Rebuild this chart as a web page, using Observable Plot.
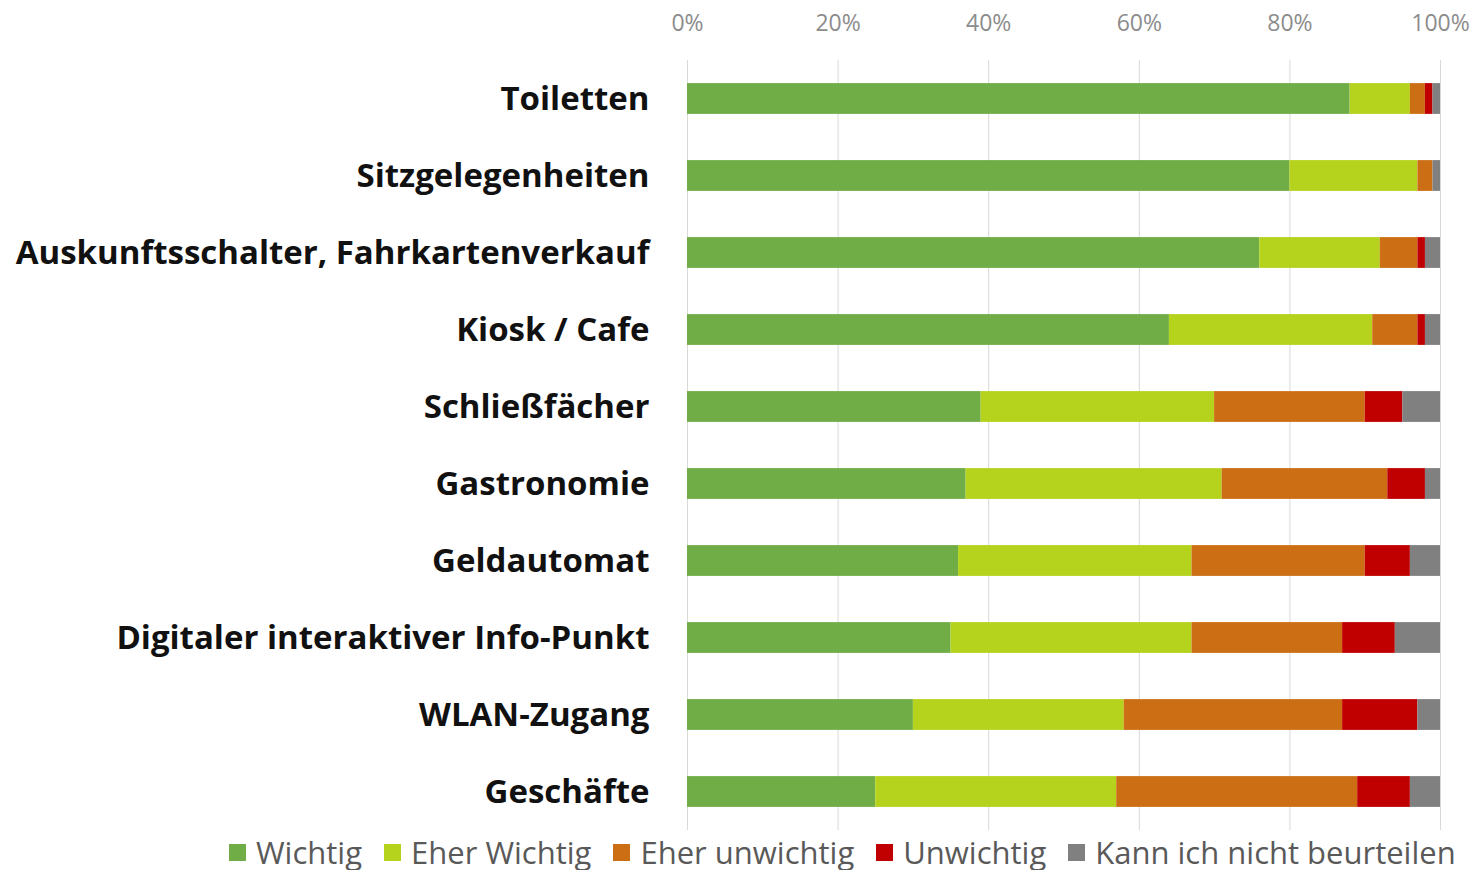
<!DOCTYPE html>
<html>
<head>
<meta charset="utf-8">
<script src="https://cdn.jsdelivr.net/npm/d3@7"></script>
<script src="https://cdn.jsdelivr.net/npm/@observablehq/plot@0.6"></script>
<style>
  html, body { margin: 0; padding: 0; background: #fff; }
  #chart { width: 1476px; }
  .legend { display: flex; align-items: center; margin-left: 229px; margin-top: -2px; line-height: 36px;
            font-family: "Open Sans", Lato, sans-serif; font-size: 31px; color: #595959; white-space: nowrap; }
  .legend .item { display: flex; align-items: center; margin-right: 22px; }
  .legend .sw { width: 17px; height: 17px; margin-right: 10px; display: inline-block; }
</style>
</head>
<body>
<div id="chart"></div>
<script>
const categories = ["Toiletten", "Sitzgelegenheiten", "Auskunftsschalter, Fahrkartenverkauf", "Kiosk / Cafe", "Schließfächer", "Gastronomie", "Geldautomat", "Digitaler interaktiver Info-Punkt", "WLAN-Zugang", "Geschäfte"];
const seriesNames = ["Wichtig", "Eher Wichtig", "Eher unwichtig", "Unwichtig", "Kann ich nicht beurteilen"];
const seriesColors = ["#70ad47", "#b5d31c", "#cc6f14", "#c00000", "#808080"];
const wichtig       = [88, 80, 76, 64, 39, 37, 36, 35, 30, 25];
const eherWichtig   = [8, 17, 16, 27, 31, 34, 31, 32, 28, 32];
const eherUnwichtig = [2, 2, 5, 6, 20, 22, 23, 20, 29, 32];
const unwichtig     = [1, 0, 1, 1, 5, 5, 6, 7, 10, 7];
const kannNicht     = [1, 1, 2, 2, 5, 2, 4, 6, 3, 4];
const xTicks = [0, 20, 40, 60, 80, 100];

const seriesValues = [wichtig, eherWichtig, eherUnwichtig, unwichtig, kannNicht];
const data = [];
categories.forEach((c, i) => {
  seriesNames.forEach((s, j) => data.push({category: c, series: s, value: seriesValues[j][i]}));
});

const plot = Plot.plot({
  width: 1476,
  height: 836,
  marginLeft: 687,
  marginRight: 36,
  marginTop: 60,
  marginBottom: 6,
  style: {fontFamily: "'Open Sans', Lato, sans-serif", background: "#fff"},
  x: {domain: [0, 100], ticks: xTicks, label: null},
  y: {domain: categories, paddingInner: 0.6, paddingOuter: 0.3, round: false, label: null},
  color: {domain: seriesNames, range: seriesColors},
  marks: [
    Plot.ruleX(xTicks, {stroke: "#d9d9d9", strokeWidth: 1}),
    Plot.barX(data, {x: "value", y: "category", fill: "series", order: seriesNames}),
    Plot.axisX({anchor: "top", ticks: xTicks, tickFormat: d => d + "%", tickSize: 0, tickPadding: 30,
                fontSize: 23, fill: "#8c8c8c", label: null}),
    Plot.axisY({tickSize: 0, tickPadding: 38, fontSize: 33, fontWeight: "bold", fill: "#111", label: null})
  ]
});
document.getElementById("chart").appendChild(plot);

const legend = document.createElement("div");
legend.className = "legend";
seriesNames.forEach((s, j) => {
  const item = document.createElement("div");
  item.className = "item";
  const sw = document.createElement("span");
  sw.className = "sw";
  sw.style.background = seriesColors[j];
  item.appendChild(sw);
  item.appendChild(document.createTextNode(s));
  legend.appendChild(item);
});
document.getElementById("chart").appendChild(legend);
</script>
</body>
</html>
